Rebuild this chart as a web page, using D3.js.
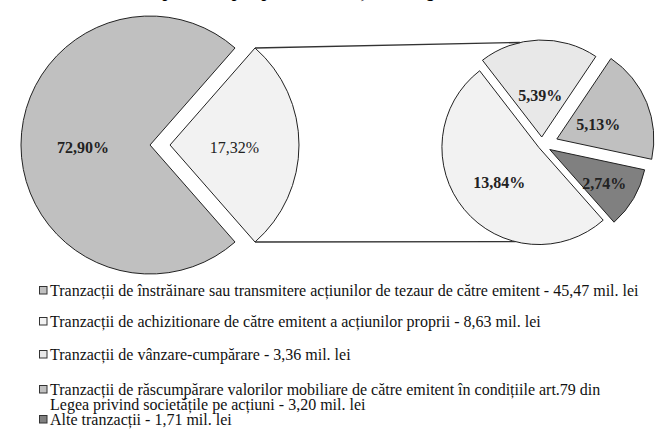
<!DOCTYPE html>
<html>
<head>
<meta charset="utf-8">
<script src="https://cdn.jsdelivr.net/npm/d3@7"></script>
<style>
  html, body { margin: 0; padding: 0; background: #fff; }
  svg { display: block; }
  svg text { font-family: "Liberation Serif", "Times New Roman", serif; }
</style>
</head>
<body>
<svg id="chart" width="660" height="434"></svg>
<script>
// ===== DATE =====

const titleText = "ponderea pe tipuri a tranzacțiilor înregistrate, %";

const categories = [
  "Tranzacții de înstrăinare sau transmitere acțiunilor de tezaur de către emitent - 45,47 mil. lei",
  "Tranzacții de achizitionare de către emitent a acțiunilor proprii - 8,63 mil. lei",
  "Tranzacții de vânzare-cumpărare - 3,36 mil. lei",
  "Tranzacții de răscumpărare valorilor mobiliare de către emitent în condițiile art.79 din|Legea privind societățile pe acțiuni - 3,20 mil. lei",
  "Alte tranzacții - 1,71 mil. lei"
];
const values = [45.47, 8.63, 3.36, 3.20, 1.71];
const shareLabels = ["72,90%", "13,84%", "5,39%", "5,13%", "2,74%"];
const otherLabel = "17,32%";
const colors = ["#c0c0c0", "#f2f2f2", "#e8e8e8", "#c0c0c0", "#808080"];

// ===== CONFIGURARE =====

const svg = d3.select("#chart");
const pie1 = { cx: 150, cy: 145, r: 129, explode: [0, 20], labelAt: [0.52, 0.5] };
const pie2 = { cx: 542, cy: 145, r: 97, start: 138.5, explode: [4, 8, 16, 9], labelAt: [0.53, 0.45, 0.46, 0.65] };
const rad = Math.PI / 180;

function offset(a, d) {
  return [d * Math.sin(a), -d * Math.cos(a)];
}

// titlu (taiat sus, ca in original)
svg.append("text")
  .attr("x", 333)
  .attr("y", -3)
  .attr("text-anchor", "middle")
  .attr("font-size", 17)
  .attr("font-style", "italic")
  .attr("font-weight", "bold")
  .text(titleText);

// ===== PRIMUL PIE =====

const otherSum = d3.sum(values.slice(1));
const otherAngle = 2 * Math.PI * otherSum / d3.sum(values);
const startAngle1 = Math.PI / 2 + otherAngle / 2;

const arcs1 = d3.pie().sort(null)
  .startAngle(startAngle1)
  .endAngle(startAngle1 + 2 * Math.PI)([values[0], otherSum]);

const arc1 = d3.arc().innerRadius(0).outerRadius(pie1.r);

const g1 = svg.append("g").attr("transform", `translate(${pie1.cx},${pie1.cy})`);

arcs1.forEach((d, i) => {
  const mid = (d.startAngle + d.endAngle) / 2;
  const [ox, oy] = offset(mid, pie1.explode[i]);
  const gs = g1.append("g").attr("transform", `translate(${ox},${oy})`);
  gs.append("path")
    .attr("d", arc1(d))
    .attr("fill", i === 0 ? colors[0] : colors[1])
    .attr("stroke", "#222")
    .attr("stroke-width", 1);
  const [lx, ly] = offset(mid, pie1.r * pie1.labelAt[i]);
  gs.append("text")
    .attr("x", lx)
    .attr("y", ly + 2)
    .attr("text-anchor", "middle")
    .attr("dominant-baseline", "central")
    .attr("font-size", 16)
    .attr("font-weight", i === 0 ? "bold" : "normal")
    .attr("fill", "#222")
    .text(i === 0 ? shareLabels[0] : otherLabel);
});

// ===== AL DOILEA PIE =====

const startAngle2 = pie2.start * rad;
const arcs2 = d3.pie().sort(null)
  .startAngle(startAngle2)
  .endAngle(startAngle2 + 2 * Math.PI)(values.slice(1));

const arc2 = d3.arc().innerRadius(0).outerRadius(pie2.r);
const g2 = svg.append("g").attr("transform", `translate(${pie2.cx},${pie2.cy})`);
const centers2 = [];

arcs2.forEach((d, i) => {
  const mid = (d.startAngle + d.endAngle) / 2;
  const [ox, oy] = offset(mid, pie2.explode[i]);
  centers2.push([pie2.cx + ox, pie2.cy + oy]);
  const gs = g2.append("g").attr("transform", `translate(${ox},${oy})`);
  gs.append("path")
    .attr("d", arc2(d))
    .attr("fill", colors[i + 1])
    .attr("stroke", "#222")
    .attr("stroke-width", 1);
  const [lx, ly] = offset(mid, pie2.r * pie2.labelAt[i]);
  gs.append("text")
    .attr("x", lx)
    .attr("y", ly + 2)
    .attr("text-anchor", "middle")
    .attr("dominant-baseline", "central")
    .attr("font-size", 16)
    .attr("font-weight", "bold")
    .attr("fill", "#222")
    .text(shareLabels[i + 1]);
});

// ===== LINII DE LEGATURA =====

const small = arcs1[1];
const sx = pie1.cx + pie1.explode[1];
const [t0x, t0y] = offset(small.startAngle, pie1.r);
const [b0x, b0y] = offset(small.endAngle, pie1.r);
const [t1x, t1y] = offset(-13 * rad, pie2.r);
const [b1x, b1y] = offset(194 * rad, pie2.r);

svg.append("line")
  .attr("x1", sx + t0x).attr("y1", pie1.cy + t0y)
  .attr("x2", centers2[1][0] + t1x).attr("y2", centers2[1][1] + t1y)
  .attr("stroke", "#333").attr("stroke-width", 1.3);
svg.append("line")
  .attr("x1", sx + b0x).attr("y1", pie1.cy + b0y)
  .attr("x2", centers2[0][0] + b1x).attr("y2", centers2[0][1] + b1y)
  .attr("stroke", "#333").attr("stroke-width", 1.3);

// ===== LEGENDA =====

const legendY = [291, 322, 355, 390, 420];
const legend = svg.append("g").attr("font-size", 16);

categories.forEach((c, i) => {
  const y = legendY[i];
  legend.append("rect")
    .attr("x", 39.5).attr("y", y - 4.5)
    .attr("width", 7.5).attr("height", 7.5)
    .attr("fill", colors[i])
    .attr("stroke", "#333")
    .attr("stroke-width", 1);
  c.split("|").forEach((line, k) => {
    legend.append("text")
      .attr("x", 50)
      .attr("y", y + 5 + k * 15)
      .attr("fill", "#111")
      .text(line);
  });
});
</script>
</body>
</html>
